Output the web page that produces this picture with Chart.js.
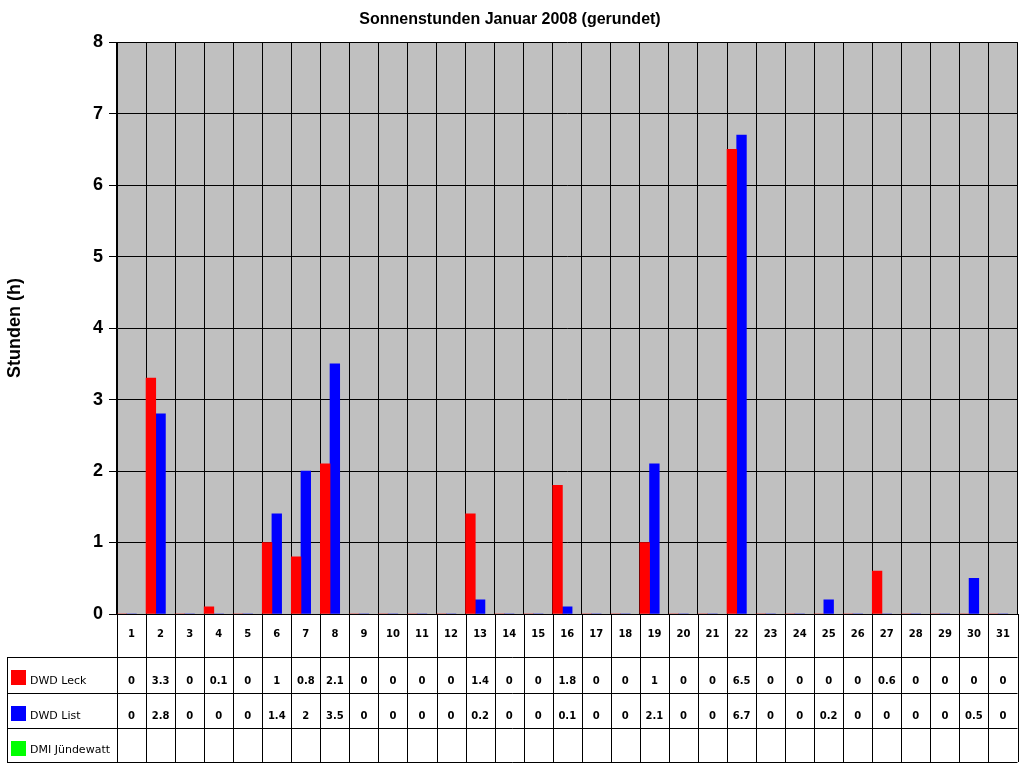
<!DOCTYPE html>
<html>
<head>
<meta charset="utf-8">
<script src="https://cdn.jsdelivr.net/npm/chart.js@4"></script>
<style>
  body { margin: 0; background: #fff; }
  #wrap { width: 1024px; height: 768px; }
</style>
</head>
<body>
<div id="wrap"><canvas id="c"></canvas></div>
<script>
// Tage im Januar
const days = [];
for (let d = 1; d <= 31; d++) days.push(String(d));
const leck = [0, 3.3, 0, 0.1, 0, 1, 0.8, 2.1, 0, 0, 0, 0, 1.4, 0, 0, 1.8, 0, 0, 1, 0, 0, 6.5, 0, 0, 0, 0, 0.6, 0, 0, 0, 0];
const list = [0, 2.8, 0, 0, 0, 1.4, 2, 3.5, 0, 0, 0, 0, 0.2, 0, 0, 0.1, 0, 0, 2.1, 0, 0, 6.7, 0, 0, 0.2, 0, 0, 0, 0, 0.5, 0];
const dmi = days.map(() => null);
const seriesNames = ['DWD Leck', 'DWD List', 'DMI Jündewatt'];
const seriesColors = ['#ff0000', '#0000ff', '#00ff00'];

const LEFT = 117, TABLE_LEFT = 7;
const rowLines = [657, 693, 728, 762];

// Datentabelle unter dem Diagramm
const tablePlugin = {
  id: 'table',
  afterDraw(chart) {
    const ctx = chart.ctx, x = chart.scales.x, a = chart.chartArea;
    const n = days.length;
    const step = (a.right - a.left) / n;
    ctx.save();
    ctx.strokeStyle = '#000';
    ctx.lineWidth = 1;
    ctx.beginPath();
    for (let i = 0; i <= n; i++) {
      const px = Math.round(a.left + i * step) + 0.5;
      ctx.moveTo(px, a.bottom); ctx.lineTo(px, rowLines[3]);
    }
    rowLines.forEach(y => { ctx.moveTo(TABLE_LEFT, y + 0.5); ctx.lineTo(a.right, y + 0.5); });
    ctx.moveTo(TABLE_LEFT + 0.5, rowLines[0]); ctx.lineTo(TABLE_LEFT + 0.5, rowLines[3]);
    ctx.stroke();

    const rows = [leck, list, dmi];
    ctx.font = 'bold 10px "DejaVu Sans"';
    ctx.textAlign = 'center';
    ctx.textBaseline = 'alphabetic';
    rows.forEach((vals, r) => {
      const yText = rowLines[r + 1] - 9;
      vals.forEach((v, i) => {
        if (v === null) return;
        ctx.fillStyle = '#000';
        ctx.fillText(String(v), x.getPixelForValue(i), yText);
      });
      ctx.fillStyle = seriesColors[r];
      ctx.fillRect(11, rowLines[r] + 13, 15, 15);
      ctx.fillStyle = '#000';
      ctx.textAlign = 'left';
      ctx.font = '11px "DejaVu Sans"';
      ctx.fillText(seriesNames[r], 30, yText);
      ctx.textAlign = 'center';
      ctx.font = 'bold 10px "DejaVu Sans"';
    });
    ctx.restore();
  }
};

const bgPlugin = {
  id: 'bg',
  beforeDraw(chart) {
    const a = chart.chartArea, ctx = chart.ctx;
    ctx.save();
    ctx.fillStyle = '#c0c0c0';
    ctx.fillRect(a.left, a.top, a.right - a.left, a.bottom - a.top);
    ctx.restore();
  }
};

new Chart(document.getElementById('c'), {
  type: 'bar',
  data: {
    labels: days,
    datasets: [
      { label: seriesNames[0], data: leck, backgroundColor: seriesColors[0] },
      { label: seriesNames[1], data: list, backgroundColor: seriesColors[1] },
      { label: seriesNames[2], data: dmi, backgroundColor: seriesColors[2] }
    ]
  },
  options: {
    responsive: true,
    maintainAspectRatio: false,
    animation: false,
    layout: { padding: { right: 4, bottom: 768 - rowLines[0] + 1 } },
    datasets: { bar: { categoryPercentage: 1, barPercentage: 1 } },
    plugins: {
      legend: { display: false },
      tooltip: { enabled: false },
      title: {
        display: true,
        text: 'Sonnenstunden Januar 2008 (gerundet)',
        color: '#000',
        font: { family: 'Arial, "Liberation Sans"', size: 16, weight: 'bold' },
        padding: { top: 10, bottom: 13 }
      }
    },
    scales: {
      x: {
        grid: { color: '#000', offset: true, drawTicks: false },
        border: { color: '#000' },
        ticks: { color: '#000', font: { family: '"DejaVu Sans"', size: 10, weight: 'bold' }, padding: 14, maxRotation: 0, autoSkip: false },
        afterFit(s) { s.height = rowLines[0] - 615; }
      },
      y: {
        min: 0, max: 8,
        grid: { color: '#000', tickLength: 8 },
        border: { color: '#000' },
        ticks: { stepSize: 1, color: '#000', font: { family: 'Arial, "Liberation Sans"', size: 18, weight: 'bold' }, padding: 6 },
        title: { display: true, text: 'Stunden (h)', color: '#000', font: { family: 'Arial, "Liberation Sans"', size: 18, weight: 'bold' } },
        afterFit(s) { s.width = LEFT; }
      }
    }
  },
  plugins: [bgPlugin, tablePlugin]
});
</script>
</body>
</html>
